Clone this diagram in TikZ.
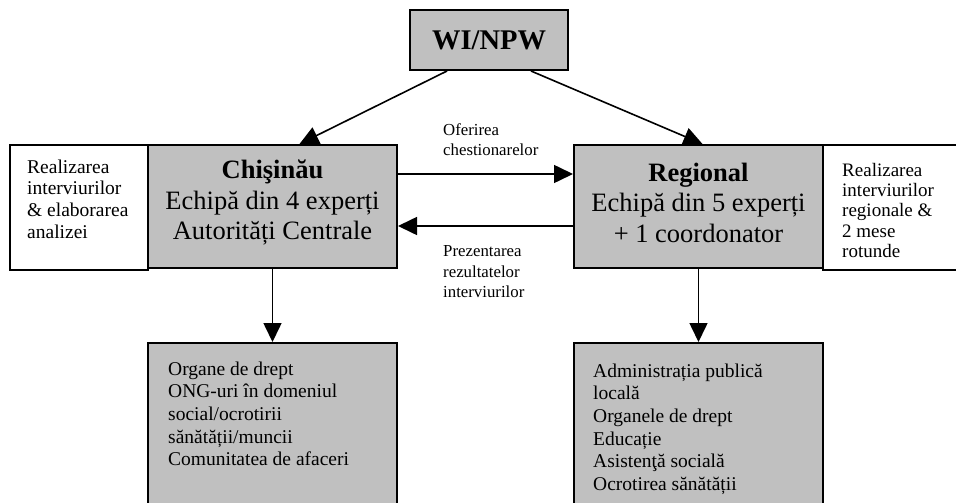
\documentclass[tikz,border=0pt]{standalone}
\usepackage{fontspec}
\setmainfont{Liberation Serif}
\usepackage{tikz}
\usetikzlibrary{arrows.meta}
\definecolor{boxgray}{RGB}{192,192,192}
\newcommand{\bigsize}{\fontsize{26.5}{30.5}\selectfont}
\newcommand{\sidesize}{\fontsize{19.5}{21.7}\selectfont}
\newcommand{\lowsize}{\fontsize{19.5}{22.6}\selectfont}
\newcommand{\labsize}{\fontsize{16.8}{20.3}\selectfont}
\tikzset{
  graybox/.style={draw, line width=2pt, fill=boxgray, inner sep=0pt, align=center},
  whitebox/.style={draw, line width=2pt, fill=white, inner sep=0pt},
  txt/.style={anchor=north west, inner sep=0pt, align=left},
  arr/.style={line width=1.6pt, -{Triangle[length=19pt,width=18pt]}}
}

\begin{document}
\begin{tikzpicture}[x=1pt,y=-1pt]
      \useasboundingbox (0,0) rectangle (956,503);

          %% top box and the two teams
      \node (wi) at (489,40) [graybox, minimum width=158pt, minimum height=60pt,
        font=\fontsize{28.5}{30}\selectfont\bfseries] {WI/NPW};
      \node (chis) at (272.5,206.5) [graybox, minimum width=249pt, minimum height=123pt] {};
      \node (chistxt) at ([yshift=4pt]chis.center) [align=center, inner sep=0pt, font=\bigsize]
        {\textbf{Chişinău}\\Echipă din 4 experți\\Autorități Centrale};
      \node (reg) at (698.5,206.5) [graybox, minimum width=249pt, minimum height=123pt] {};
      \node (regtxt) at ([yshift=4pt]reg.center) [align=center, inner sep=0pt, font=\bigsize]
        {\textbf{Regional}\\Echipă din 5 experți\\+ 1 coordonator};

          %% side boxes
      \node (lside) at (79,207.5) [whitebox, minimum width=138pt, minimum height=125pt] {};
      \node (ltxt) at (27,159.5) [txt, font=\sidesize]
        {Realizarea\\interviurilor\\\& elaborarea\\analizei};
      \node (rside) at (896.5,207.5) [whitebox, minimum width=147pt, minimum height=125pt] {};
      \node (rtxt) at (842,163) [txt, font=\fontsize{19}{20.3}\selectfont]
        {Realizarea\\interviurilor\\regionale \&\\2 mese\\rotunde};

          %% lower boxes
      \node (llow) at (272.5,431.5) [graybox, minimum width=249pt, minimum height=177pt] {};
      \node (lltxt) at (168,361.5) [txt, font=\lowsize]
        {Organe de drept\\ONG-uri în domeniul\\social/ocrotirii\\sănătății/muncii\\Comunitatea de afaceri};
      \node (rlow) at (698.5,431.5) [graybox, minimum width=249pt, minimum height=177pt] {};
      \node (rltxt) at (593,363.5) [txt, font=\lowsize]
        {Administrația publică\\locală\\Organele de drept\\Educație\\Asistenţă socială\\Ocrotirea sănătății};

          %% arrow labels
      \node (ofer) at (443,123.5) [txt, font=\labsize] {Oferirea\\chestionarelor};
      \node (prez) at (443,245.5) [txt, font=\labsize] {Prezentarea\\rezultatelor\\interviurilor};

      \draw[arr] ([xshift=38pt]wi.south west) to ([xshift=27pt]chis.north);
      \draw[arr] ([xshift=-38pt]wi.south east) to ([xshift=4pt]reg.north);
      \draw[arr] ([yshift=32.5pt]chis.east) to ([yshift=32.5pt]reg.west);
      \draw[arr] ([yshift=-19.5pt]reg.west) to ([yshift=-19.5pt]chis.east);
      \draw[arr] (chis.south) to (llow.north);
      \draw[arr] (reg.south) to (rlow.north);

        \end{tikzpicture}
\end{document}
